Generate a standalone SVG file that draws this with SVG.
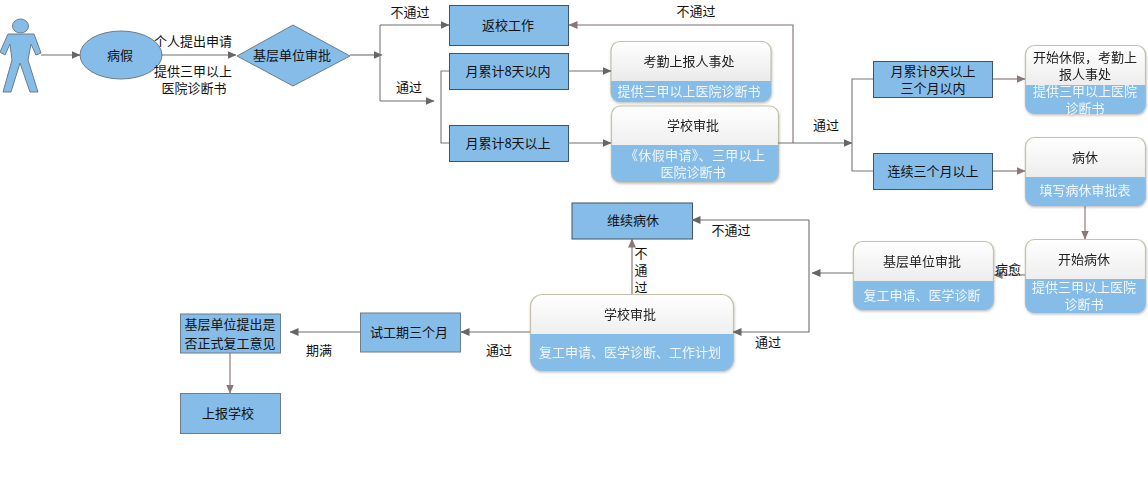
<svg xmlns="http://www.w3.org/2000/svg" width="1148" height="481" viewBox="0 0 1148 481">
<style>
text{font-family:"Noto Sans CJK SC","Liberation Sans",sans-serif;font-size:13px;fill:#111;text-anchor:middle}
text.w{fill:#f2f7fb}
text.l{fill:#222}
.b{fill:#85bce8;stroke:#3d5566;stroke-width:1}
.s{fill:#85bce8;stroke:#6d7d88;stroke-width:1}
.c{fill:url(#g);stroke:#c4c2aa;stroke-width:1.2}
.f{fill:#85bce8}
.k{fill:none;stroke:#777;stroke-width:1.1}
.r{fill:none;stroke:#7f6f6f;stroke-width:1.1;marker-end:url(#m)}
.a{fill:none;stroke:#6e6e6e;stroke-width:1.1;marker-end:url(#n)}
</style>
<defs>
<linearGradient id="g" x1="0" y1="0" x2="0" y2="1"><stop offset="0" stop-color="#fff"/><stop offset="0.55" stop-color="#eee"/><stop offset="1" stop-color="#ddd"/></linearGradient>
<marker id="n" markerWidth="9" markerHeight="8" refX="8.500" refY="4" orient="auto" markerUnits="userSpaceOnUse"><path d="M0 0L9 4L0 8z" fill="#666"/></marker>
<marker id="m" markerWidth="9" markerHeight="8" refX="8.500" refY="4" orient="auto" markerUnits="userSpaceOnUse"><path d="M0 0L9 4L0 8z" fill="#8a7777"/></marker>
<filter id="sh" x="-5%" y="-5%" width="110%" height="115%"><feDropShadow dx="0.5" dy="1.5" stdDeviation="1" flood-color="#999" flood-opacity="0.6"/></filter>
</defs>

<g id="person">
<ellipse cx="20.500" cy="26" rx="8" ry="7" class="s"/>
<path class="s" d="M12 34H29L34 34L41 53L36 55L31 44L28 60L38 92H30L20 63L11 92H3L12 60L10 44L5 55L0 52L8 34Z"/>
</g>
<g id="n-sick"><ellipse cx="121" cy="55" rx="41" ry="24" class="s"/><text x="120" y="60">病假</text></g>
<g id="n-diamond"><path class="s" d="M237 56L293 25L350 56L293 86Z"/><text x="292" y="60">基层单位审批</text></g>
<g id="n-return"><rect x="449.500" y="5.500" width="119" height="40" class="b"/><text x="508" y="30">返校工作</text></g>
<g id="n-within"><rect x="449.500" y="53.500" width="119" height="36" class="b"/><text x="508" y="76">月累计8天以内</text></g>
<g id="n-over"><rect x="449.500" y="125.500" width="119" height="36" class="b"/><text x="508" y="148">月累计8天以上</text></g>

<g id="n-attend" filter="url(#sh)"><rect x="611" y="41.500" width="160" height="60" rx="9" class="c"/><path class="f" d="M611 81H771V93a9 9 0 0 1-9 9H620a9 9 0 0 1-9-9Z"/><text x="689" y="66" class="l">考勤上报人事处</text><text x="689" y="96" class="w">提供三甲以上医院诊断书</text></g>
<g id="n-school1" filter="url(#sh)"><rect x="611.500" y="106" width="167" height="76" rx="9" class="c"/><path class="f" d="M611.500 145H778.500V173a9 9 0 0 1-9 9H620.500a9 9 0 0 1-9-9Z"/><text x="693" y="130" class="l">学校审批</text><text x="695" y="160" class="w" textLength="140" lengthAdjust="spacing">《休假申请》、三甲以上</text><text x="693" y="177" class="w">医院诊断书</text></g>

<g id="n-m3in"><rect x="873.500" y="61.500" width="119" height="36" class="b"/><text x="933" y="76">月累计8天以上</text><text x="933" y="93">三个月以内</text></g>
<g id="n-m3over"><rect x="873.500" y="153.500" width="119" height="36" class="b"/><text x="933" y="176">连续三个月以上</text></g>

<g id="n-rest" filter="url(#sh)"><rect x="1025.500" y="45.500" width="120" height="68" rx="9" class="c"/><path class="f" d="M1025.500 85H1145.500V105a9 9 0 0 1-9 9H1034.500a9 9 0 0 1-9-9Z"/><text x="1085" y="62" class="l">开始休假，考勤上</text><text x="1085" y="79" class="l">报人事处</text><text x="1085" y="96" class="w">提供三甲以上医院</text><text x="1085" y="113" class="w">诊断书</text></g>
<g id="n-leave" filter="url(#sh)"><rect x="1025.500" y="137.500" width="120" height="68" rx="9" class="c"/><path class="f" d="M1025.500 177H1145.500V197a9 9 0 0 1-9 9H1034.500a9 9 0 0 1-9-9Z"/><text x="1085" y="162" class="l">病休</text><text x="1085" y="195" class="w">填写病休审批表</text></g>
<g id="n-startleave" filter="url(#sh)"><rect x="1025.500" y="239.500" width="120" height="73" rx="9" class="c"/><path class="f" d="M1025.500 279H1145.500V304a9 9 0 0 1-9 9H1034.500a9 9 0 0 1-9-9Z"/><text x="1084" y="264" class="l">开始病休</text><text x="1084" y="292" class="w">提供三甲以上医院</text><text x="1084" y="309" class="w">诊断书</text></g>
<g id="n-base2" filter="url(#sh)"><rect x="853.500" y="241.500" width="140" height="68" rx="9" class="c"/><path class="f" d="M853.500 281H993.500V301a9 9 0 0 1-9 9H862.500a9 9 0 0 1-9-9Z"/><text x="922" y="266" class="l">基层单位审批</text><text x="922" y="300" class="w">复工申请、医学诊断</text></g>

<g id="n-continue"><rect x="572" y="203" width="120.500" height="36" class="b"/><text x="633" y="225">维续病休</text></g>
<g id="n-school2" filter="url(#sh)"><rect x="530.500" y="294.500" width="203" height="76" rx="12" class="c"/><path class="f" d="M530.500 334H733.500V359a12 12 0 0 1-12 12H542.500a12 12 0 0 1-12-12Z"/><text x="630" y="319" class="l">学校审批</text><text x="630" y="357" class="w">复工申请、医学诊断、工作计划</text></g>
<g id="n-trial"><rect x="360.500" y="313" width="100" height="39" class="s"/><text x="409" y="337">试工期三个月</text></g>
<g id="n-propose"><rect x="180.500" y="314" width="100" height="39" class="s"/><text x="230" y="329">基层单位提出是</text><text x="230" y="348">否正式复工意见</text></g>
<g id="n-report"><rect x="180.500" y="393.500" width="100" height="40" class="s"/><text x="228" y="418">上报学校</text></g>

<g id="connectors">
<path class="a" d="M41 55H80"/>
<path class="a" d="M161 55H236"/>
<path class="a" d="M350 55H382"/>
<path class="k" d="M380 55V25"/>
<path class="k" d="M380 55V101"/>
<path class="a" d="M380 25H449"/>
<path class="a" d="M380 101H434"/>
<path class="k" d="M449 71H441V143H449"/>
<path class="a" d="M568 71H611"/>
<path class="a" d="M568 143H611"/>
<path class="r" d="M793 143V25H569"/>
<path class="a" d="M778 143H852"/>
<path class="k" d="M873 79H852V171H873"/>
<path class="r" d="M993 79H1025"/>
<path class="r" d="M993 171H1025"/>
<path class="r" d="M1085 206V239"/>
<path class="r" d="M1025 275H994"/>
<path class="a" d="M853 273H812"/>
<path class="a" d="M809 220H692"/>
<path class="a" d="M809 220V332H733"/>
<path class="r" d="M632 294V239"/>
<path class="a" d="M530 332H461"/>
<path class="a" d="M360 332H290"/>
<path class="r" d="M230 353V393"/>
</g>

<g id="labels">
<text x="193" y="46">个人提出申请</text>
<text x="193" y="76">提供三甲以上</text>
<text x="194" y="93">医院诊断书</text>
<text x="410" y="17">不通过</text>
<text x="409" y="92">通过</text>
<text x="696" y="16">不通过</text>
<text x="826" y="130">通过</text>
<text x="1008" y="274">病愈</text>
<text x="731" y="235">不通过</text>
<text x="768" y="347">通过</text>
<text x="499" y="355">通过</text>
<text x="319" y="355">期满</text>
<text><tspan x="641" y="258">不</tspan><tspan x="641" y="275">通</tspan><tspan x="641" y="292">过</tspan></text>
</g>
</svg>
